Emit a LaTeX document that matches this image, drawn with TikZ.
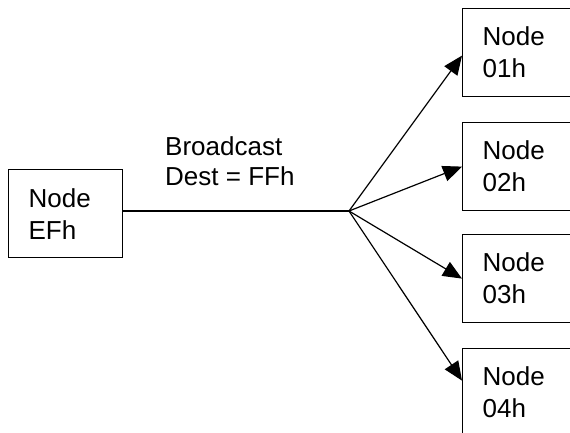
\documentclass[tikz,border=0pt]{standalone}
\usepackage{fontspec}
\setmainfont{Liberation Sans}
\usetikzlibrary{arrows.meta}
\begin{document}
\begin{tikzpicture}[
  x=1pt, y=-1pt,
  nodo/.style={draw=black, line width=1.2pt, rectangle, anchor=north west, align=left,
    inner xsep=20pt, inner ysep=0pt, minimum height=88pt,
    font=\fontsize{26}{32}\selectfont},
  flecha/.style={line width=1.2pt, -{Triangle[length=19pt, width=16pt]}},
  linea/.style={line width=1.2pt}
]
\useasboundingbox (0,0) rectangle (570,432);
\clip (0,0) rectangle (570,432);
\node[nodo, text width=74pt] (efh) at (8,169) {Node\\EFh};
\node[nodo, text width=90pt] (n01) at (462,8) {Node\\01h};
\node[nodo, text width=90pt] (n02) at (462,122) {Node\\02h};
\node[nodo, text width=90pt] (n03) at (462,234) {Node\\03h};
\node[nodo, text width=90pt] (n04) at (462,348) {Node\\04h};
\coordinate (hub) at (349,211);
\node[anchor=north west, align=left, inner sep=0pt, font=\fontsize{26}{30}\selectfont]
  (msg) at (165,136) {Broadcast\\Dest = FFh};
\draw[linea] (efh.east |- hub) -- (hub);
\draw[flecha] (hub) -- ([yshift=-3pt]n01.west);
\draw[flecha] (hub) -- (n02.west);
\draw[flecha] (hub) -- (n03.west);
\draw[flecha] (hub) -- ([yshift=12pt]n04.west);
\end{tikzpicture}
\end{document}
